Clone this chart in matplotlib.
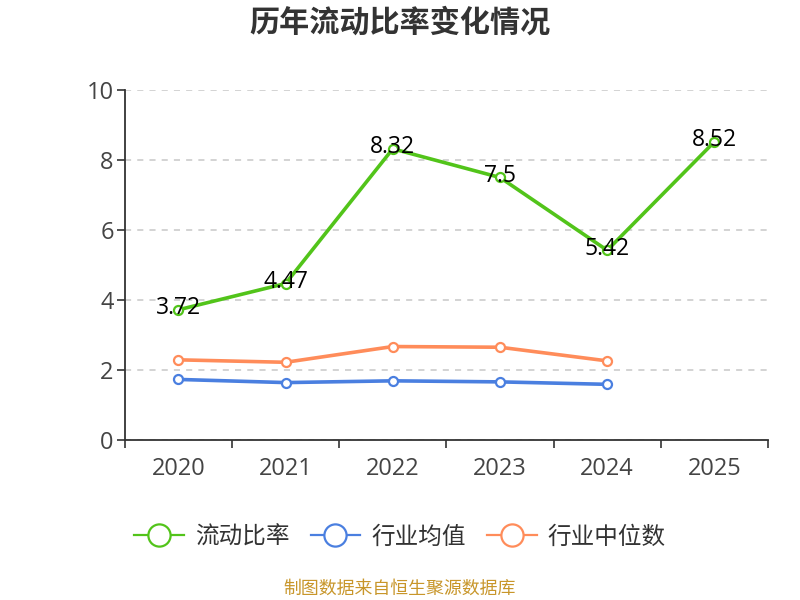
import matplotlib.pyplot as plt
import numpy as np
from matplotlib.lines import Line2D

plt.rcParams['font.family'] = ['Open Sans', 'Noto Sans CJK SC', 'DejaVu Sans']

# 数据
years = ["2020", "2021", "2022", "2023", "2024", "2025"]
liudong = [3.72, 4.47, 8.32, 7.5, 5.42, 8.52]
hangye_junzhi = [1.73, 1.64, 1.69, 1.66, 1.59]
hangye_zhongwei = [2.29, 2.22, 2.67, 2.65, 2.26]
labels = ["3.72", "4.47", "8.32", "7.5", "5.42", "8.52"]

c_green = "#52c41a"
c_blue = "#4a7fe0"
c_orange = "#ff8c5a"
cjk = ['Noto Sans CJK SC', 'DejaVu Sans']

fig = plt.figure(figsize=(8, 6), dpi=100)
ax = fig.add_axes([0.156, 0.2667, 0.804, 0.5833])

x = np.arange(len(years))
mk = dict(marker="o", markersize=6.5, markerfacecolor="white", markeredgewidth=1.6, linewidth=2.6)
ax.plot(x[:5], hangye_junzhi, color=c_blue, zorder=3, **mk)
ax.plot(x[:5], hangye_zhongwei, color=c_orange, zorder=3, **mk)
ax.plot(x, liudong, color=c_green, zorder=4, **mk)

for xi, v, t in zip(x, liudong, labels):
    ax.annotate(t, (xi, v), xytext=(0, 1), textcoords="offset points",
                ha="center", va="center", fontsize=16.5, color="black", zorder=5)

ax.set_xlim(-0.5, 5.5)
ax.set_ylim(0, 10)
ax.set_yticks([0, 2, 4, 6, 8, 10])
ax.set_xticks(x)
ax.set_xticklabels(years)
ax.set_xticks(np.arange(-0.5, 6, 1), minor=True)
ax.tick_params(axis="x", which="major", length=0, labelsize=17, labelcolor="#444444", pad=12)
ax.tick_params(axis="x", which="minor", length=6, width=1.2, color="#333333")
ax.tick_params(axis="y", length=6, width=1.2, color="#333333", labelsize=17, labelcolor="#444444", pad=2)

ax.grid(axis="y", linestyle=(0, (4, 4)), color="#c8c8c8", linewidth=1.1)
for s in ["top", "right"]:
    ax.spines[s].set_visible(False)
for s in ["left", "bottom"]:
    ax.spines[s].set_color("#333333")
    ax.spines[s].set_linewidth(1.3)

fig.text(0.5, 0.962, "历年流动比率变化情况", ha="center", va="center",
         fontsize=21.7, fontweight="bold", color="#333333", family=cjk)

handles = [Line2D([0], [0], color=c, marker="o", markersize=16, markerfacecolor="white",
                  markeredgewidth=1.6, linewidth=1.6) for c in (c_green, c_blue, c_orange)]
fig.legend(handles, ["流动比率", "行业均值", "行业中位数"], loc="center", bbox_to_anchor=(0.5, 0.105),
           ncol=3, frameon=False, prop={"family": cjk, "size": 17}, handlelength=2.1,
           columnspacing=0.9, handletextpad=0.47, labelcolor="#333333")

fig.text(0.5, 0.018, "制图数据来自恒生聚源数据库", ha="center", va="center",
         fontsize=12.9, color="#c8962a", family=cjk)

plt.savefig("out.png", dpi=100)
